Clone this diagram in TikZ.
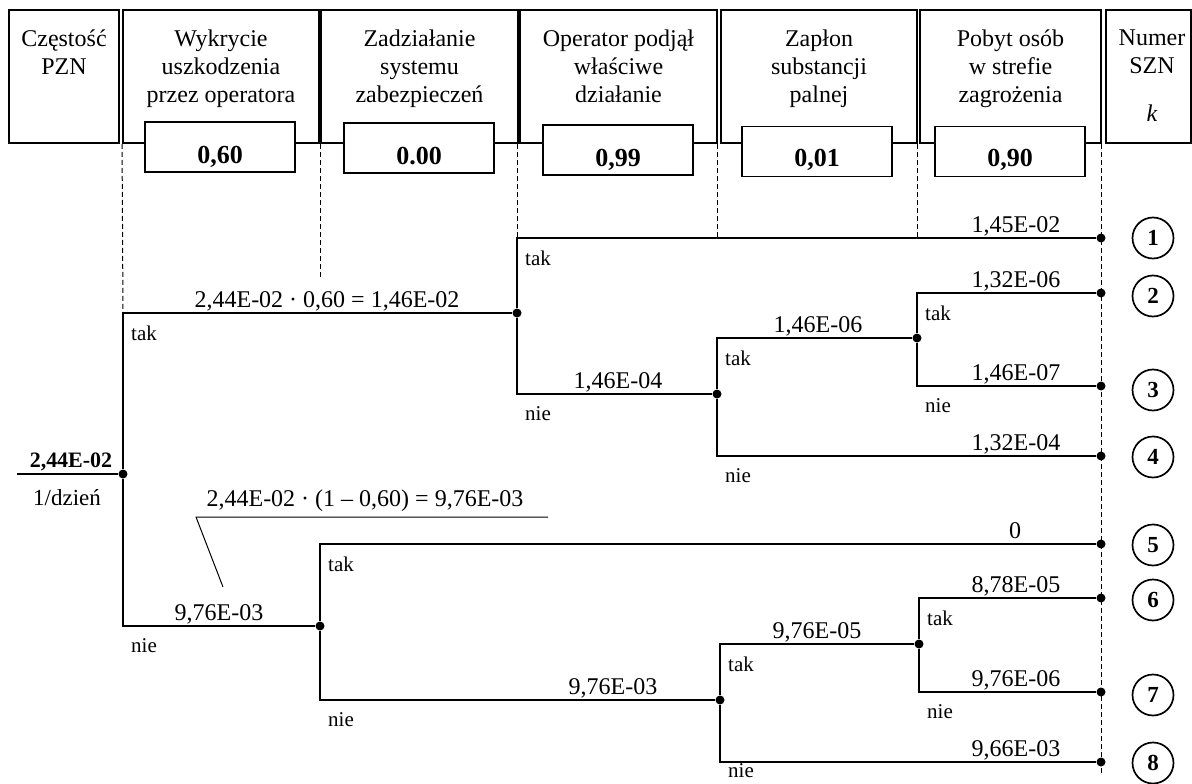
\documentclass[tikz,border=0pt]{standalone}
\usepackage{fontspec}
\setmainfont{Liberation Serif}
\newcommand{\pt}[1]{\fontsize{#1}{1.16\dimexpr#1pt\relax}\selectfont}
\tikzset{
  headbox/.style  = {draw, line width=1.9pt, minimum height=133pt, inner sep=0pt},
  headtext/.style = {align=center, anchor=north, inner sep=0pt, font=\pt{24}},
  valbox/.style   = {draw, fill=white, line width=1.9pt, minimum width=150pt,
                     minimum height=50pt, inner sep=0pt},
  valtext/.style  = {anchor=base, inner sep=0pt, font=\pt{26}\bfseries},
  branch/.style   = {line width=2pt},
  guide/.style    = {line width=1pt, dash pattern=on 5pt off 3pt},
  fork/.style     = {circle, fill, inner sep=0pt, minimum size=9pt},
  prob/.style     = {anchor=base, inner sep=0pt, font=\pt{24}},
  answer/.style   = {anchor=west, inner sep=0pt, font=\pt{21}},
  scen/.style     = {circle, draw, line width=1.7pt, minimum size=41pt,
                     inner sep=0pt, font=\pt{23}\bfseries}
}

\begin{document}
\begin{tikzpicture}[x=1pt, y=-1pt]
  \useasboundingbox (0,0) rectangle (1192,784);

  % header
  \node[headbox, minimum width=110pt] (h1) at (64,76.5) {};
  \node[headbox, minimum width=196pt] (h2) at (221,76.5) {};
  \node[headbox, minimum width=197pt] (h3) at (419.5,76.5) {};
  \node[headbox, minimum width=197pt] (h4) at (618.5,76.5) {};
  \node[headbox, minimum width=196pt] (h5) at (819,76.5) {};
  \node[headbox, minimum width=181pt] (h6) at (1010.5,76.5) {};
  \node[headbox, minimum width=85pt]  (h7) at (1148.5,76.5) {};
  \node[headtext] (h1t) at (64,30)     {Częstość\\PZN};
  \node[headtext] (h2t) at (221,30)    {Wykrycie\\uszkodzenia\\przez operatora};
  \node[headtext] (h3t) at (419.5,30)  {Zadziałanie\\systemu\\zabezpieczeń};
  \node[headtext] (h4t) at (618.5,30)  {Operator podjął\\właściwe\\działanie};
  \node[headtext] (h5t) at (819,30)    {Zapłon\\substancji\\palnej};
  \node[headtext] (h6t) at (1010.5,30) {Pobyt osób\\w strefie\\zagrożenia};
  \node[headtext] (h7t) at (1152,30)   {Numer\\SZN\\[20pt]\textit{k}};

  \node[valbox] (v1) at (220,147) {};
  \node[valbox] (v2) at (419,148) {};
  \node[valbox] (v3) at (618,150) {};
  \node[valbox] (v4) at (817,151.5) {};
  \node[valbox] (v5) at (1010,151.5) {};
  \node[valtext] (v1t) at (220,163)  {0,60};
  \node[valtext] (v2t) at (419,164)  {0.00};
  \node[valtext] (v3t) at (618,166)  {0,99};
  \node[valtext] (v4t) at (817,166)  {0,01};
  \node[valtext] (v5t) at (1010,166) {0,90};

  % tree
  \coordinate (s0) at (17,474);
  \node[fork] (n0) at (123,474) {};
  \node[fork] (n1) at (517,313) {};
  \node[fork] (n2) at (320,626) {};
  \node[fork] (n3) at (717,394) {};
  \node[fork] (n4) at (917,338) {};
  \node[fork] (n5) at (720,700) {};
  \node[fork] (n6) at (919,644) {};
  \foreach \k/\y in {1/238,2/293,3/386,4/456,5/544,6/598,7/692,8/762}
    \node[fork] (e\k) at (1101,\y) {};
  \foreach \k/\y in {1/238,2/296,3/390,4/457,5/545,6/600,7/695,8/763}
    \node[scen] (c\k) at (1153,\y) {\k};

  \draw[branch] (s0) -- (n0);
  \draw[branch] (n0) |- (n1);
  \draw[branch] (n0) |- (n2);
  \draw[branch] (n1) |- (e1);
  \draw[branch] (n1) |- (n3);
  \draw[branch] (n3) |- (n4);
  \draw[branch] (n3) |- (e4);
  \draw[branch] (n4) |- (e2);
  \draw[branch] (n4) |- (e3);
  \draw[branch] (n2) |- (e5);
  \draw[branch] (n2) |- (n5);
  \draw[branch] (n5) |- (n6);
  \draw[branch] (n5) |- (e8);
  \draw[branch] (n6) |- (e6);
  \draw[branch] (n6) |- (e7);

  % dashed guides
  \coordinate (g2) at (320,278);
  \coordinate (g6) at (1101,773);
  \draw[guide] (h2.south west) -- (n0 |- n1);
  \draw[guide] (g2 |- h3.south) -- (g2);
  \draw[guide] (n1 |- h4.south) -- (n1 |- e1);
  \draw[guide] (n3 |- h5.south) -- (n3 |- e1);
  \draw[guide] (n4 |- h6.south) -- (n4 |- e1);
  \draw[guide] (e1 |- h6.south) -- (g6);

  % start value
  \node[anchor=base, inner sep=0pt, font=\pt{22}\bfseries] (f0) at (71,467) {2,44E-02};
  \node[anchor=base, inner sep=0pt, font=\pt{23}] (f1) at (67,505) {1/dzień};

  % branch values
  \node[prob] (p0)  at (327,307)  {2,44E-02 · 0,60 = 1,46E-02};
  \node[prob] (p1)  at (1016,232) {1,45E-02};
  \node[prob] (p2)  at (1016,287) {1,32E-06};
  \node[prob] (p3)  at (818,332)  {1,46E-06};
  \node[prob] (p4)  at (1016,380) {1,46E-07};
  \node[prob] (p5)  at (618,388)  {1,46E-04};
  \node[prob] (p6)  at (1016,450) {1,32E-04};
  \node[prob] (p7)  at (219,620)  {9,76E-03};
  \node[prob] (p8)  at (1015,538) {0};
  \node[prob] (p9)  at (1016,592) {8,78E-05};
  \node[prob] (p10) at (817,638)  {9,76E-05};
  \node[prob] (p11) at (1016,686) {9,76E-06};
  \node[prob] (p12) at (613,694)  {9,76E-03};
  \node[prob] (p13) at (1016,756) {9,66E-03};

  % note for the lower branch
  \node[prob] (note) at (365,506) {2,44E-02 · (1 – 0,60) = 9,76E-03};
  \coordinate (u1) at (548,517);
  \coordinate (u2) at (196,517);
  \coordinate (u3) at (223,587);
  \draw[line width=1pt] (u1) -- (u2) -- (u3);

  % tak / nie
  \node[answer] (a1)  at (131,333) {tak};
  \node[answer] (a2)  at (131,646) {nie};
  \node[answer] (a3)  at (525,258) {tak};
  \node[answer] (a4)  at (525,414) {nie};
  \node[answer] (a5)  at (725,358) {tak};
  \node[answer] (a6)  at (725,476) {nie};
  \node[answer] (a7)  at (925,313) {tak};
  \node[answer] (a8)  at (925,406) {nie};
  \node[answer] (a9)  at (328,564) {tak};
  \node[answer] (a10) at (328,720) {nie};
  \node[answer] (a11) at (728,664) {tak};
  \node[answer] (a12) at (728,771) {nie};
  \node[answer] (a13) at (927,618) {tak};
  \node[answer] (a14) at (927,712) {nie};
\end{tikzpicture}
\end{document}
